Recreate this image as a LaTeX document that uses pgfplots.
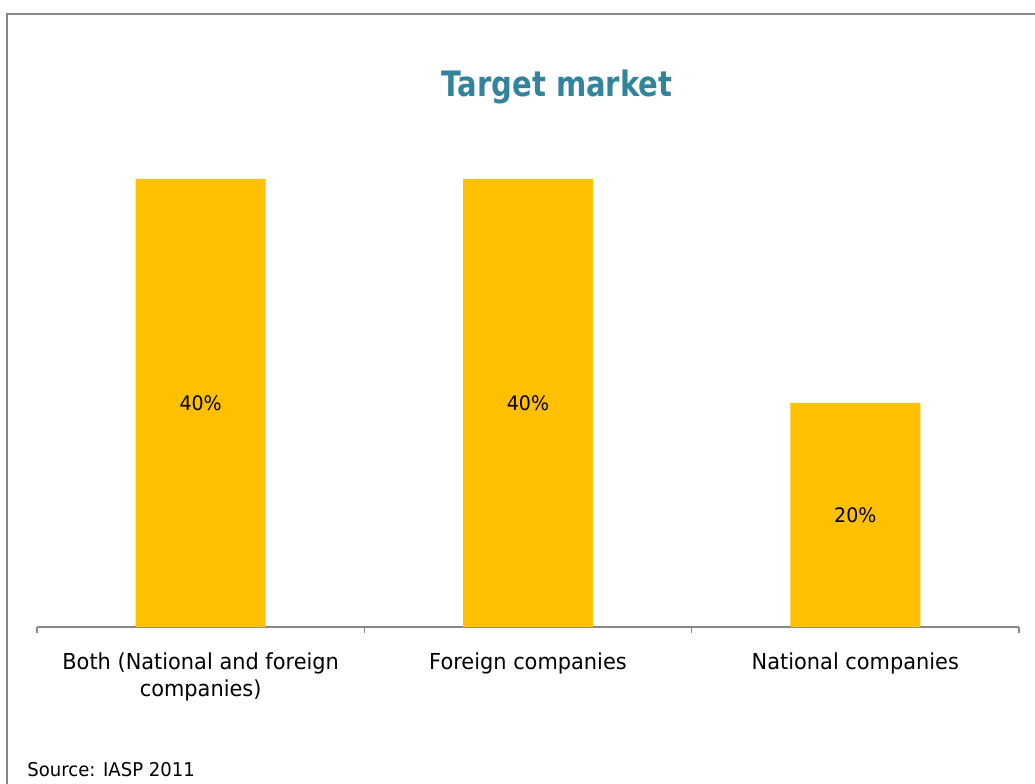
\documentclass[border=0pt]{standalone}
\usepackage{fontspec}
\setmainfont{DejaVu Sans}[FakeStretch=0.95]
\newfontfamily\titlefont{DejaVu Sans}[FakeStretch=0.83]
\usepackage{pgfplots}
\pgfplotsset{compat=1.18}
\definecolor{bargold}{HTML}{FFC000}
\definecolor{titleteal}{HTML}{31849B}
\definecolor{framegray}{HTML}{878787}

\begin{document}
\begin{tikzpicture}
% page = 1035 x 783 px at 0.5pt per px
\useasboundingbox (0,0) rectangle (517.5pt,391.5pt);
\draw[framegray,line width=1pt] (3.5pt,-2pt) -- (3.5pt,384.5pt) -- (520pt,384.5pt);
\node[font=\titlefont\bfseries\fontsize{17.5}{22}\selectfont,text=titleteal] at (278.5pt,348pt) {Target market};
\node[font=\fontsize{9.5}{11}\selectfont,anchor=west,inner sep=0pt] at (13.5pt,6.5pt) {Source: IASP 2011};

\begin{axis}[at={(18.5pt,78pt)},anchor=south west,scale only axis,
  width=491pt,height=252pt,xmin=-0.5,xmax=2.5,ymin=0,ymax=45,
  axis x line*=bottom,axis y line=none,axis line style={-,draw=framegray,line width=0.8pt},
  xtick={0,1,2},
  xticklabels={{Both (National and foreign\\companies)},{Foreign companies},{National companies}},
  xticklabel style={align=center,font=\fontsize{11}{13.5}\selectfont,text=black,yshift=-9.5pt},
  major tick length=0pt,
  minor xtick={-0.5,0.5,1.5,2.5},minor tick length=3pt,tick align=outside,
  minor tick style={draw=framegray,line width=0.8pt},
  ytick=\empty,clip=false]
\addplot[ybar,bar width=65pt,fill=bargold,draw=none] coordinates {(0,40) (1,40) (2,20)};
\addplot[draw=none,mark=none,nodes near coords,point meta=explicit symbolic,
  every node near coord/.append style={anchor=center,font=\fontsize{10}{12}\selectfont,text=black}]
  coordinates {(0,20) [40\%] (1,20) [40\%] (2,10) [20\%]};
\end{axis}
\end{tikzpicture}
\end{document}
